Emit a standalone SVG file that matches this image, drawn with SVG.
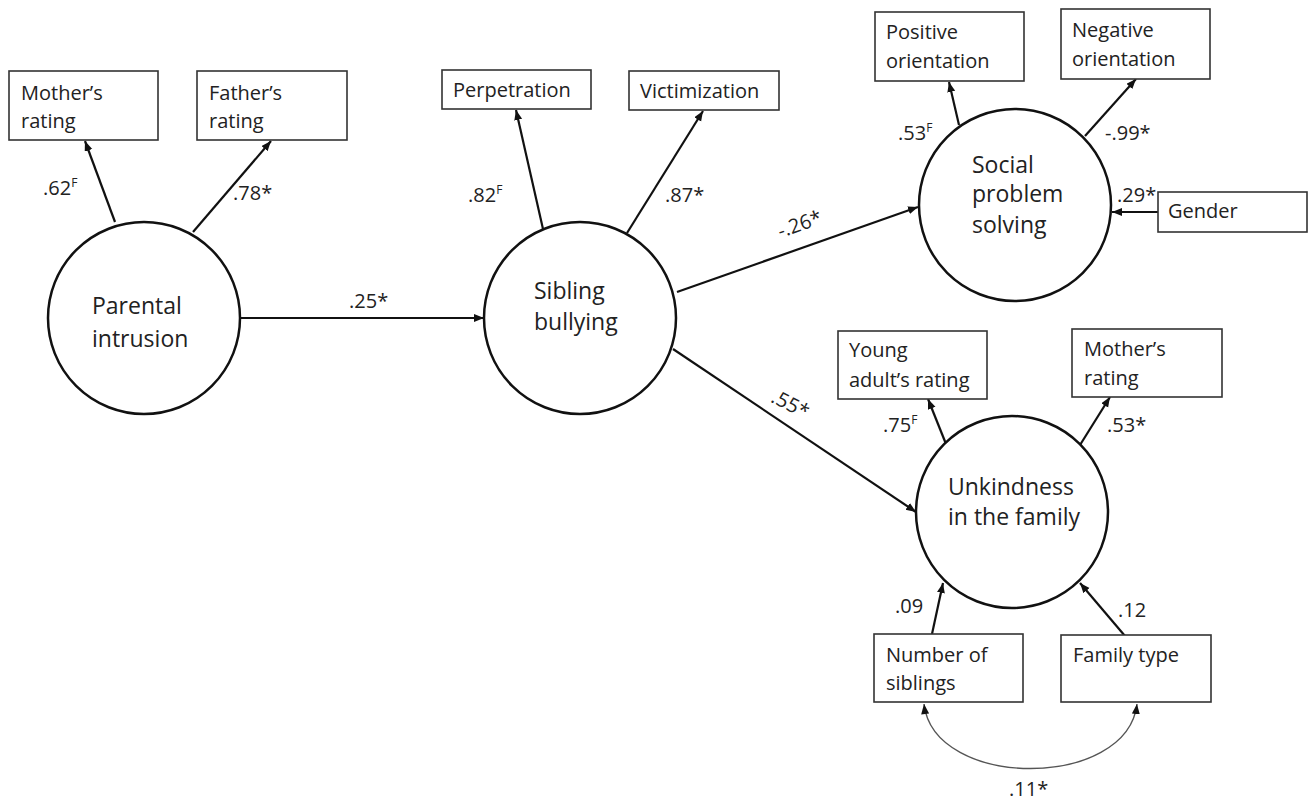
<svg xmlns="http://www.w3.org/2000/svg" width="1309" height="800" viewBox="0 0 1309 800">
<style>
.bg{fill:#fff}
.lat{fill:#fff;stroke:#111;stroke-width:2.5}
.box{fill:#fff;stroke:#333;stroke-width:1.6}
.t{font-family:"Open Sans","Liberation Sans",sans-serif;fill:#222}
.bt{font-size:20px}
.ct{font-size:23px}
.lb{font-size:20px}
.sup{font-size:12px}
.ar{stroke:#111;stroke-width:2.2;fill:none;marker-end:url(#ah)}
.cov{stroke:#555;stroke-width:1.4;fill:none;marker-start:url(#ahs);marker-end:url(#ah)}
</style>
<defs>
<marker id="ah" markerUnits="userSpaceOnUse" markerWidth="12" markerHeight="10" refX="10" refY="4" orient="auto">
<path d="M0,0 L10,4 L0,8 z" fill="#111"/>
</marker>
<marker id="ahs" markerUnits="userSpaceOnUse" markerWidth="12" markerHeight="10" refX="0" refY="4" orient="auto">
<path d="M10,0 L0,4 L10,8 z" fill="#111"/>
</marker>
</defs>
<rect class="bg" x="0" y="0" width="1309" height="800"/>

<g id="connectors">
<line class="ar" x1="115" y1="222" x2="85" y2="141"/>
<line class="ar" x1="193" y1="232" x2="271" y2="141"/>
<line class="ar" x1="240" y1="318" x2="484" y2="318"/>
<line class="ar" x1="543" y1="229" x2="516" y2="110"/>
<line class="ar" x1="627" y1="233" x2="703" y2="111"/>
<line class="ar" x1="677" y1="292" x2="918" y2="207"/>
<line class="ar" x1="673" y1="349" x2="916" y2="512"/>
<line class="ar" x1="959" y1="125" x2="949" y2="82"/>
<line class="ar" x1="1085" y1="136" x2="1136" y2="79"/>
<line class="ar" x1="1158" y1="212" x2="1112" y2="212"/>
<line class="ar" x1="946" y1="444" x2="928" y2="399"/>
<line class="ar" x1="1080" y1="445" x2="1110" y2="397"/>
<line class="ar" x1="932" y1="634" x2="943" y2="583"/>
<line class="ar" x1="1125" y1="636" x2="1080" y2="583"/>
<path class="cov" d="M924,704 C934,790 1127,790 1137,704"/>
<g class="t lb">
<text x="43" y="195">.62<tspan class="sup" dy="-8">F</tspan></text>
<text x="233" y="200">.78*</text>
<text x="349" y="308">.25*</text>
<text x="468" y="202">.82<tspan class="sup" dy="-8">F</tspan></text>
<text x="665" y="202">.87*</text>
<text x="800" y="231" text-anchor="middle" transform="rotate(-19.4 800 225)">-.26*</text>
<text x="790" y="411" text-anchor="middle" transform="rotate(27 790 405)">.55*</text>
<text x="898" y="140">.53<tspan class="sup" dy="-8">F</tspan></text>
<text x="1105" y="140">-.99*</text>
<text x="1117" y="202">.29*</text>
<text x="883" y="432">.75<tspan class="sup" dy="-8">F</tspan></text>
<text x="1107" y="432">.53*</text>
<text x="895" y="613">.09</text>
<text x="1118" y="617">.12</text>
<text x="1009" y="796">.11*</text>
</g>
</g>

<g id="parental-intrusion">
<circle class="lat" cx="144" cy="318" r="96"/>
<text class="t ct" x="92" y="314">Parental</text>
<text class="t ct" x="92" y="347">intrusion</text>
</g>
<g id="sibling-bullying">
<circle class="lat" cx="580" cy="318" r="96"/>
<text class="t ct" x="534" y="299">Sibling</text>
<text class="t ct" x="534" y="330">bullying</text>
</g>
<g id="social-problem-solving">
<circle class="lat" cx="1015" cy="205" r="96"/>
<text class="t ct" x="972" y="173">Social</text>
<text class="t ct" x="972" y="202">problem</text>
<text class="t ct" x="972" y="233">solving</text>
</g>
<g id="unkindness">
<circle class="lat" cx="1012" cy="512" r="96"/>
<text class="t ct" x="948" y="495">Unkindness</text>
<text class="t ct" x="948" y="525">in the family</text>
</g>

<g id="mothers-rating-1">
<rect class="box" x="9" y="71" width="149" height="69"/>
<text class="t bt" x="21" y="100">Mother’s</text>
<text class="t bt" x="21" y="128">rating</text>
</g>
<g id="fathers-rating">
<rect class="box" x="197" y="71" width="150" height="69"/>
<text class="t bt" x="209" y="100">Father’s</text>
<text class="t bt" x="209" y="128">rating</text>
</g>
<g id="perpetration">
<rect class="box" x="442" y="70" width="149" height="39"/>
<text class="t bt" x="453" y="97">Perpetration</text>
</g>
<g id="victimization">
<rect class="box" x="629" y="71" width="150" height="39"/>
<text class="t bt" x="640" y="98">Victimization</text>
</g>
<g id="positive-orientation">
<rect class="box" x="875" y="12" width="149" height="69"/>
<text class="t bt" x="886" y="39">Positive</text>
<text class="t bt" x="886" y="68">orientation</text>
</g>
<g id="negative-orientation">
<rect class="box" x="1061" y="9" width="149" height="70"/>
<text class="t bt" x="1072" y="37">Negative</text>
<text class="t bt" x="1072" y="66">orientation</text>
</g>
<g id="gender">
<rect class="box" x="1158" y="192" width="149" height="40"/>
<text class="t bt" x="1168" y="218">Gender</text>
</g>
<g id="young-adults-rating">
<rect class="box" x="838" y="331" width="149" height="68"/>
<text class="t bt" x="849" y="357">Young</text>
<text class="t bt" x="849" y="387">adult’s rating</text>
</g>
<g id="mothers-rating-2">
<rect class="box" x="1072" y="329" width="150" height="68"/>
<text class="t bt" x="1084" y="356">Mother’s</text>
<text class="t bt" x="1084" y="385">rating</text>
</g>
<g id="number-of-siblings">
<rect class="box" x="874" y="634" width="149" height="68"/>
<text class="t bt" x="886" y="662">Number of</text>
<text class="t bt" x="886" y="690">siblings</text>
</g>
<g id="family-type">
<rect class="box" x="1061" y="635" width="150" height="67"/>
<text class="t bt" x="1073" y="662">Family type</text>
</g>
</svg>
